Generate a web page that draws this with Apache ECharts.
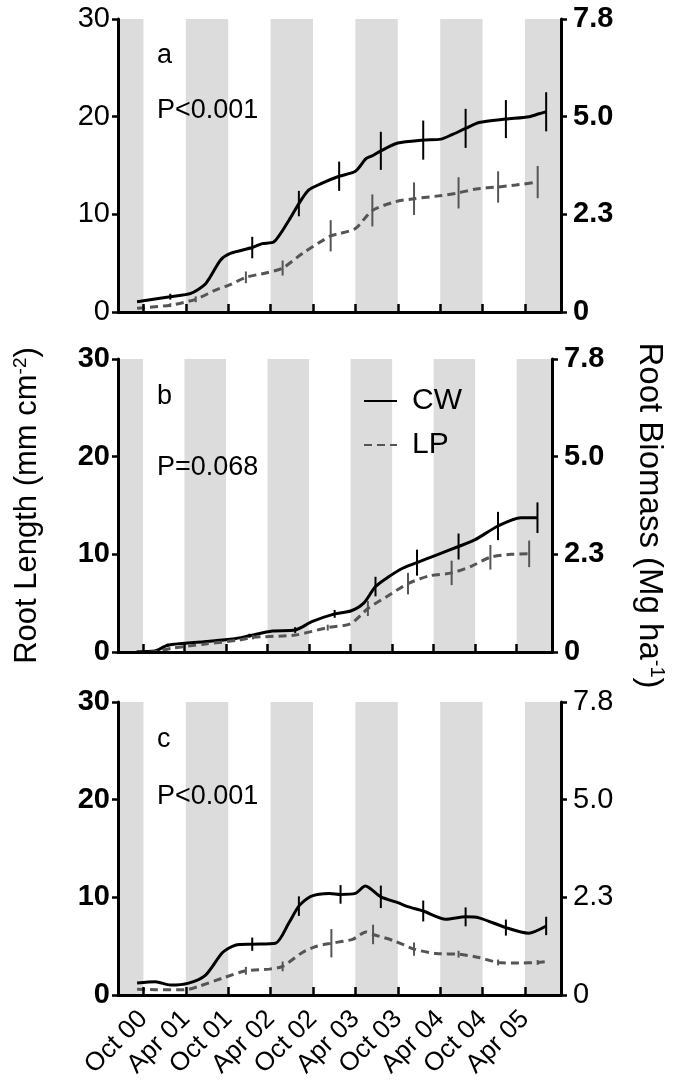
<!DOCTYPE html>
<html><head><meta charset="utf-8">
<script src="https://cdn.jsdelivr.net/npm/echarts@6/dist/echarts.min.js"></script>
<style>html,body{margin:0;padding:0;background:#fff}#c{width:675px;height:1086px}</style>
</head><body><div id="c"></div>
<script>
// x = months since Oct 2000
const tickMonths = [0, 6, 12, 18, 24, 30, 36, 42, 48, 54];
const tickLabels = ['Oct 00', 'Apr 01', 'Oct 01', 'Apr 02', 'Oct 02', 'Apr 03', 'Oct 03', 'Apr 04', 'Oct 04', 'Apr 05'];
const seasonBands = [[-6, 0], [6, 12], [18, 24], [30, 36], [42, 48], [54, 60]];
const leftTicks = [0, 10, 20, 30];
const rightTickLabels = ['0', '2.3', '5.0', '7.8'];
const panelLetters = ['a', 'b', 'c'];
const pLabels = ['P<0.001', 'P=0.068', 'P<0.001'];

// Panel a
const aCW_m = [-0.9, 3.8, 6.7, 8.8, 10.9, 12.3, 15.4, 16.8, 18.5, 20.6, 22.0, 23.4, 25.3, 27.7, 30.0, 31.5, 32.4, 33.6, 36.0, 39.6, 42.1, 43.5, 45.6, 47.5, 51.3, 54.6, 56.0, 57.0];
const aCW_v = [1.05, 1.57, 1.9, 2.9, 5.3, 6.0, 6.6, 7.0, 7.2, 9.4, 11.1, 12.5, 13.2, 13.9, 14.4, 15.7, 16.0, 16.5, 17.3, 17.6, 17.7, 18.1, 18.8, 19.4, 19.75, 20.0, 20.3, 20.5];
const aCW_e = [0, 0.3, 0, 0, 0, 0, 1.1, 0, 0, 0, 1.3, 0, 0, 1.5, 0, 0, 0, 1.95, 0, 2.0, 0, 0, 2.0, 0, 1.95, 0, 0, 2.0];
const aLP_m = [-0.9, 3.8, 7.4, 10.2, 12.1, 14.5, 17.3, 19.7, 22.5, 26.5, 27.6, 30.0, 32.4, 35.7, 38.3, 41.9, 44.6, 47.1, 50.2, 52.7, 55.8];
const aLP_v = [0.38, 0.7, 1.3, 2.25, 2.75, 3.55, 4.0, 4.5, 6.0, 7.8, 8.0, 8.55, 10.4, 11.3, 11.6, 11.9, 12.2, 12.6, 12.8, 13.0, 13.3];
const aLP_e = [0, 0.2, 0.3, 0, 0, 0.6, 0, 0.77, 0, 1.6, 0, 0, 1.64, 0, 1.67, 0, 1.6, 0, 1.6, 0, 1.65];

// Panel b
const bCW_m = [-0.9, 1.7, 3.6, 8.8, 13.0, 15.4, 18.7, 22.0, 24.4, 27.7, 30.0, 31.9, 33.6, 35.5, 37.6, 39.6, 42.3, 45.6, 48.0, 51.3, 54.6, 57.0];
const bCW_v = [0.03, 0.1, 0.7, 1.05, 1.33, 1.67, 2.15, 2.25, 3.1, 3.9, 4.2, 5.0, 6.7, 7.7, 8.6, 9.15, 9.9, 10.8, 11.5, 12.9, 13.75, 13.75];
const bCW_e = [0, 0, 0.15, 0, 0, 0.2, 0, 0.3, 0, 0.4, 0, 0, 1.0, 0, 0, 1.33, 0, 1.33, 0, 1.45, 0, 1.57];
const bLP_m = [-0.9, 1.7, 4.1, 8.8, 14.0, 15.9, 22.0, 26.7, 30.0, 32.5, 35.2, 38.3, 41.4, 44.6, 47.5, 50.2, 53.2, 55.8];
const bLP_v = [0, 0.02, 0.37, 0.8, 1.23, 1.5, 1.74, 2.5, 2.9, 4.45, 5.66, 7.0, 7.8, 8.1, 8.8, 9.7, 10.0, 10.05];
const bLP_e = [0, 0, 0, 0, 0, 0.2, 0, 0.3, 0, 0.77, 0, 1.1, 0, 1.25, 0, 1.26, 0, 1.36];

// Panel c
const cCW_m = [-0.9, 1.7, 3.8, 6.4, 8.8, 11.2, 13.0, 15.4, 18.7, 20.6, 22.0, 23.7, 26.3, 27.9, 30.0, 31.4, 33.6, 36.0, 37.4, 39.6, 42.8, 45.6, 47.5, 51.3, 54.5, 57.0];
const cCW_v = [1.22, 1.36, 1.02, 1.22, 2.04, 4.35, 5.1, 5.2, 5.3, 7.4, 9.1, 10.1, 10.4, 10.3, 10.4, 11.15, 10.05, 9.45, 9.05, 8.6, 7.75, 8.0, 7.9, 6.9, 6.33, 7.07];
const cCW_e = [0, 0, 0, 0, 0, 0, 0, 0.68, 0, 0, 1.0, 0, 0, 0.95, 0, 0, 1.15, 0, 0, 1.07, 0, 0.97, 0, 0.82, 0, 0.94];
const cLP_m = [-0.9, 1.7, 6.0, 7.8, 11.2, 14.5, 17.8, 19.7, 22.5, 24.4, 26.6, 29.6, 31.5, 32.5, 35.5, 38.3, 41.4, 44.6, 47.5, 50.2, 53.2, 55.8, 56.8];
const cLP_v = [0.6, 0.54, 0.54, 0.88, 1.73, 2.48, 2.65, 2.93, 4.36, 4.97, 5.3, 5.7, 6.45, 6.2, 5.54, 4.7, 4.25, 4.18, 3.84, 3.33, 3.27, 3.33, 3.4];
const cLP_e = [0, 0, 0, 0, 0, 0.4, 0, 0.5, 0, 0, 1.45, 0, 0, 1.0, 0, 0.68, 0, 0.35, 0, 0.3, 0, 0.25, 0];

const panels = [
  {cw: [aCW_m, aCW_v, aCW_e], lp: [aLP_m, aLP_v, aLP_e]},
  {cw: [bCW_m, bCW_v, bCW_e], lp: [bLP_m, bLP_v, bLP_e]},
  {cw: [cCW_m, cCW_v, cCW_e], lp: [cLP_m, cLP_v, cLP_e]}
];

const FONT = '"Liberation Sans", Arial, Helvetica, sans-serif';
const X_MIN = -3.6, X_MAX = 59.1;
const Y_MIN = 0, Y_MAX = 30;
const gridTops = [19, 359, 702];
const gridH = 293;
const leftBold = [false, true, true];
const rightBold = [true, true, false];
const CW_COLOR = '#000000';
const LP_COLOR = '#555555';
const BAND_COLOR = '#dcdcdc';

const grids = gridTops.map(t => ({left: 118, width: 443, top: t, height: gridH}));
const xAxes = [], yAxes = [], series = [];

gridTops.forEach((t, i) => {
  xAxes.push({
    type: 'value', gridIndex: i, min: X_MIN, max: X_MAX, z: 10, position: 'bottom',
    axisLine: {show: true, onZero: false, lineStyle: {color: '#000', width: 3}},
    axisTick: {show: true, inside: true, length: 8, customValues: tickMonths, lineStyle: {color: '#000', width: 2.5}},
    axisLabel: {show: i === 2, customValues: tickMonths, rotate: 45, margin: 20,
      fontFamily: FONT, fontSize: 26, color: '#000',
      formatter: v => tickLabels[tickMonths.indexOf(v)] || ''},
    splitLine: {show: false}
  });
  yAxes.push({
    type: 'value', gridIndex: i, position: 'left', min: Y_MIN, max: Y_MAX, interval: 10, z: 10,
    axisLine: {show: true, onZero: false, lineStyle: {color: '#000', width: 3}},
    axisTick: {show: true, length: 6, lineStyle: {color: '#000', width: 2.5}},
    axisLabel: {fontFamily: FONT, fontSize: 29, color: '#000', margin: 8, fontWeight: leftBold[i] ? 'bold' : 'normal'},
    splitLine: {show: false},
    name: i === 1 ? 'Root Length (mm cm{sup|-2})' : '',
    nameLocation: 'middle', nameRotate: 90, nameGap: 74,
    nameTextStyle: {fontFamily: FONT, fontSize: 31, color: '#000',
      rich: {sup: {fontFamily: FONT, fontSize: 19, color: '#000', verticalAlign: 'top', padding: [0, 0, 14, 0]}}}
  });
  yAxes.push({
    type: 'value', gridIndex: i, position: 'right', min: Y_MIN, max: Y_MAX, interval: 10, z: 10,
    axisLine: {show: true, onZero: false, lineStyle: {color: '#000', width: 3}},
    axisTick: {show: true, length: 6, lineStyle: {color: '#000', width: 2.5}},
    axisLabel: {fontFamily: FONT, fontSize: 29, color: '#000', margin: 12, fontWeight: rightBold[i] ? 'bold' : 'normal',
      formatter: v => rightTickLabels[leftTicks.indexOf(v)]},
    splitLine: {show: false},
    name: i === 1 ? 'Root Biomass (Mg ha{sup|-1})' : '',
    nameLocation: 'middle', nameRotate: -90, nameGap: 80,
    nameTextStyle: {fontFamily: FONT, fontSize: 33, color: '#000', padding: [0, 0, 0, 20],
      rich: {sup: {fontFamily: FONT, fontSize: 20, color: '#000', verticalAlign: 'top', padding: [0, 0, 15, 0]}}}
  });

  const p = panels[i];
  // grey growing-season bands (Apr–Oct)
  series.push({
    type: 'custom', name: 'season', xAxisIndex: i, yAxisIndex: 2 * i, z: 0, silent: true,
    data: seasonBands.map(b => [Math.max(b[0], X_MIN), Math.min(b[1], X_MAX)]),
    encode: {x: [0, 1]},
    renderItem: (params, api) => {
      const a = api.coord([api.value(0), Y_MAX]);
      const b = api.coord([api.value(1), Y_MIN]);
      return {type: 'rect', shape: {x: a[0], y: a[1], width: b[0] - a[0], height: b[1] - a[1]},
        style: {fill: BAND_COLOR}};
    }
  });
  const mkLine = (name, arr, color, dashed) => ({
    type: 'line', name, xAxisIndex: i, yAxisIndex: 2 * i,
    data: arr[0].map((m, k) => [m, arr[1][k]]),
    showSymbol: false, symbol: 'none', smooth: 0.25, z: 3,
    lineStyle: {color, width: 3, type: dashed ? [8, 5] : 'solid'},
    itemStyle: {color}
  });
  const mkErr = (name, arr, color) => ({
    type: 'custom', name: name + ' SE', xAxisIndex: i, yAxisIndex: 2 * i, z: 4,
    data: arr[0].map((m, k) => [m, arr[1][k], arr[2][k]]).filter(d => d[2] > 0),
    encode: {x: 0, y: 1},
    renderItem: (params, api) => {
      const x = api.value(0), y = api.value(1), e = api.value(2);
      const p1 = api.coord([x, y + e]), p2 = api.coord([x, y - e]);
      return {type: 'line', shape: {x1: p1[0], y1: p1[1], x2: p2[0], y2: p2[1]},
        style: {stroke: color, lineWidth: 2}};
    }
  });
  series.push(mkLine('CW', p.cw, CW_COLOR, false));
  series.push(mkLine('LP', p.lp, LP_COLOR, true));
  series.push(mkErr('CW', p.cw, CW_COLOR));
  series.push(mkErr('LP', p.lp, LP_COLOR));
});

const letterY = [58, 399, 742];
const pY = [112, 469, 798];
const graphics = [];
gridTops.forEach((t, i) => {
  graphics.push({type: 'text', z: 100, left: 157, top: letterY[i] - 16, style: {text: panelLetters[i], font: '27px ' + FONT, fill: '#000'}});
  graphics.push({type: 'text', z: 100, left: 157, top: pY[i] - 15, style: {text: pLabels[i], font: '27px ' + FONT, fill: '#000'}});
});

const chart = echarts.init(document.getElementById('c'), null, {renderer: 'canvas'});
chart.setOption({
  animation: false,
  backgroundColor: '#fff',
  grid: grids, xAxis: xAxes, yAxis: yAxes, series,
  legend: {data: ['CW', 'LP'], orient: 'vertical', left: 358, top: 381, z: 100,
    itemWidth: 33, itemHeight: 14, itemGap: 14,
    itemStyle: {opacity: 0},
    textStyle: {fontFamily: FONT, fontSize: 30, color: '#000', padding: [0, 0, 0, 10]}},
  graphic: graphics
});
</script></body></html>
